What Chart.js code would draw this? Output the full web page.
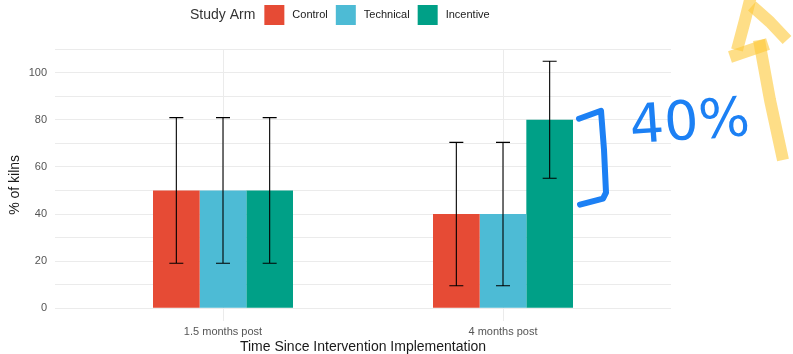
<!DOCTYPE html>
<html>
<head>
<meta charset="utf-8">
<script src="https://cdn.jsdelivr.net/npm/chart.js@4"></script>
<style>
html,body{margin:0;padding:0;background:#fff;}
#wrap{width:793px;height:354px;position:relative;}
</style>
</head>
<body>
<div id="wrap"><canvas id="c" width="793" height="354"></canvas></div>
<script>
// ---- data ----
const categories = ['1.5 months post', '4 months post'];
const categoryPositions = [1, 2];
const seriesNames = ['Control', 'Technical', 'Incentive'];
const seriesColors = ['#E64B35', '#4DBBD5', '#00A087'];
const controlValues = [50, 40];
const technicalValues = [50, 40];
const incentiveValues = [50, 80];
const controlLower = [19.1, 9.6];
const controlUpper = [80.9, 70.4];
const technicalLower = [19.1, 9.6];
const technicalUpper = [80.9, 70.4];
const incentiveLower = [19.1, 55.2];
const incentiveUpper = [80.9, 104.8];
const yTickValues = [0, 10, 20, 30, 40, 50, 60, 70, 80, 90, 100, 110];
const yTickLabels = ['0', '', '20', '', '40', '', '60', '', '80', '', '100', ''];

const seriesValues = [controlValues, technicalValues, incentiveValues];
const seriesLower = [controlLower, technicalLower, incentiveLower];
const seriesUpper = [controlUpper, technicalUpper, incentiveUpper];

const datasets = seriesNames.map((name, i) => ({
  label: name,
  data: seriesValues[i].map((v, j) => ({x: categoryPositions[j], y: v})),
  backgroundColor: seriesColors[i],
  borderWidth: 0,
  categoryPercentage: 0.5,
  barPercentage: 1.0,
  lower: seriesLower[i],
  upper: seriesUpper[i]
}));

const errorBars = {
  id: 'errorBars',
  afterDatasetsDraw(chart) {
    const ctx = chart.ctx;
    const y = chart.scales.y;
    ctx.save();
    ctx.strokeStyle = '#000';
    ctx.lineWidth = 1.1;
    chart.data.datasets.forEach((ds, i) => {
      const meta = chart.getDatasetMeta(i);
      meta.data.forEach((bar, j) => {
        const x = bar.x;
        const yl = y.getPixelForValue(ds.lower[j]);
        const yu = y.getPixelForValue(ds.upper[j]);
        const cap = bar.width * 0.15;
        ctx.beginPath();
        ctx.moveTo(x, yl); ctx.lineTo(x, yu);
        ctx.moveTo(x - cap, yl); ctx.lineTo(x + cap, yl);
        ctx.moveTo(x - cap, yu); ctx.lineTo(x + cap, yu);
        ctx.stroke();
      });
    });
    ctx.restore();
  }
};

const customLegend = {
  id: 'customLegend',
  afterDraw(chart) {
    const ctx = chart.ctx;
    ctx.save();
    ctx.textBaseline = 'middle';
    ctx.textAlign = 'left';
    let x = 190;
    const cy = 15;
    ctx.font = '14px "Liberation Sans", Arial, sans-serif';
    ctx.fillStyle = '#333333';
    ctx.fillText('Study Arm', x, cy);
    x += ctx.measureText('Study Arm').width + 9;
    ctx.font = '11px "Liberation Sans", Arial, sans-serif';
    chart.data.datasets.forEach((ds) => {
      ctx.fillStyle = ds.backgroundColor;
      ctx.fillRect(x, cy - 10, 20, 20);
      x += 28;
      ctx.fillStyle = '#1a1a1a';
      ctx.fillText(ds.label, x, cy);
      x += ctx.measureText(ds.label).width + 8;
    });
    ctx.restore();
  }
};

const annotations = {
  id: 'annotations',
  afterDraw(chart) {
    const ctx = chart.ctx;
    const y = chart.scales.y;
    const metaInc = chart.getDatasetMeta(2);
    const bar = metaInc.data[1];
    const bx = bar.x + bar.width / 2;
    const yTop = y.getPixelForValue(incentiveValues[1]);
    const yBot = y.getPixelForValue(44);
    ctx.save();
    // yellow highlighter arrow
    ctx.strokeStyle = 'rgba(253,200,55,0.6)';
    ctx.lineWidth = 12;
    ctx.lineCap = 'butt';
    ctx.lineJoin = 'round';
    [[[751, -4], [745, 20], [737, 50]], [[752, 6], [770, 22], [787, 40]], [[730, 57], [768, 44]], [[759, 40], [770, 100], [783, 160]]].forEach(seg => {
      ctx.beginPath();
      ctx.moveTo(seg[0][0], seg[0][1]);
      for (let k = 1; k < seg.length; k++) ctx.lineTo(seg[k][0], seg[k][1]);
      ctx.stroke();
    });
    // blue bracket
    ctx.strokeStyle = '#1c80f4';
    ctx.lineWidth = 6;
    ctx.lineCap = 'round';
    ctx.lineJoin = 'round';
    ctx.beginPath();
    ctx.moveTo(bx + 6, yTop - 1);
    ctx.lineTo(bx + 28, yTop - 9);
    ctx.lineTo(bx + 31, yTop + 30);
    ctx.lineTo(bx + 33, yBot - 12);
    ctx.lineTo(bx + 30, yBot - 6);
    ctx.lineTo(bx + 7, yBot);
    ctx.stroke();
    // blue handwritten label
    ctx.translate(690, 125);
    ctx.rotate(-0.07);
    ctx.fillStyle = '#1c80f4';
    ctx.font = '54px "DejaVu Sans", sans-serif';
    ctx.textAlign = 'center';
    ctx.textBaseline = 'middle';
    ctx.fillText('40%', 0, 0);
    ctx.restore();
  }
};

new Chart(document.getElementById('c'), {
  type: 'bar',
  data: { datasets },
  options: {
    responsive: false,
    animation: false,
    devicePixelRatio: 1,
    layout: { padding: { left: 0, right: 122, top: 49, bottom: 0 } },
    plugins: {
      legend: { display: false },
      tooltip: { enabled: false }
    },
    scales: {
      x: {
        type: 'linear',
        min: 0.4,
        max: 2.6,
        offset: false,
        afterBuildTicks(scale) {
          scale.ticks = categoryPositions.map(v => ({value: v}));
        },
        afterFit(scale) { scale.height = 33.3; },
        ticks: {
          callback(value) {
            const idx = categoryPositions.indexOf(value);
            return idx >= 0 ? categories[idx] : '';
          },
          color: '#555555',
          font: { family: '"Liberation Sans", Arial, sans-serif', size: 11 },
          padding: 5,
          maxRotation: 0,
          autoSkip: false
        },
        grid: { color: '#ebebeb', lineWidth: 1, drawTicks: false, offset: false },
        border: { display: false },
        title: {
          display: true,
          text: 'Time Since Intervention Implementation',
          color: '#1a1a1a',
          font: { family: '"Liberation Sans", Arial, sans-serif', size: 14, lineHeight: 1 },
          padding: { top: 0, bottom: 0 }
        }
      },
      y: {
        min: -5.24,
        max: 110,
        afterBuildTicks(scale) {
          scale.ticks = yTickValues.map(v => ({value: v}));
        },
        afterFit(scale) { scale.width = 55; },
        ticks: {
          callback(value) {
            const idx = yTickValues.indexOf(value);
            return idx >= 0 ? yTickLabels[idx] : '';
          },
          color: '#555555',
          font: { family: '"Liberation Sans", Arial, sans-serif', size: 11 },
          padding: 8,
          autoSkip: false
        },
        grid: { color: '#ebebeb', lineWidth: 1, drawTicks: false },
        border: { display: false },
        title: {
          display: true,
          text: '% of kilns',
          color: '#1a1a1a',
          font: { family: '"Liberation Sans", Arial, sans-serif', size: 14, lineHeight: 1 },
          padding: { top: 8, bottom: 0 }
        }
      }
    }
  },
  plugins: [errorBars, customLegend, annotations]
});
</script>
</body>
</html>
